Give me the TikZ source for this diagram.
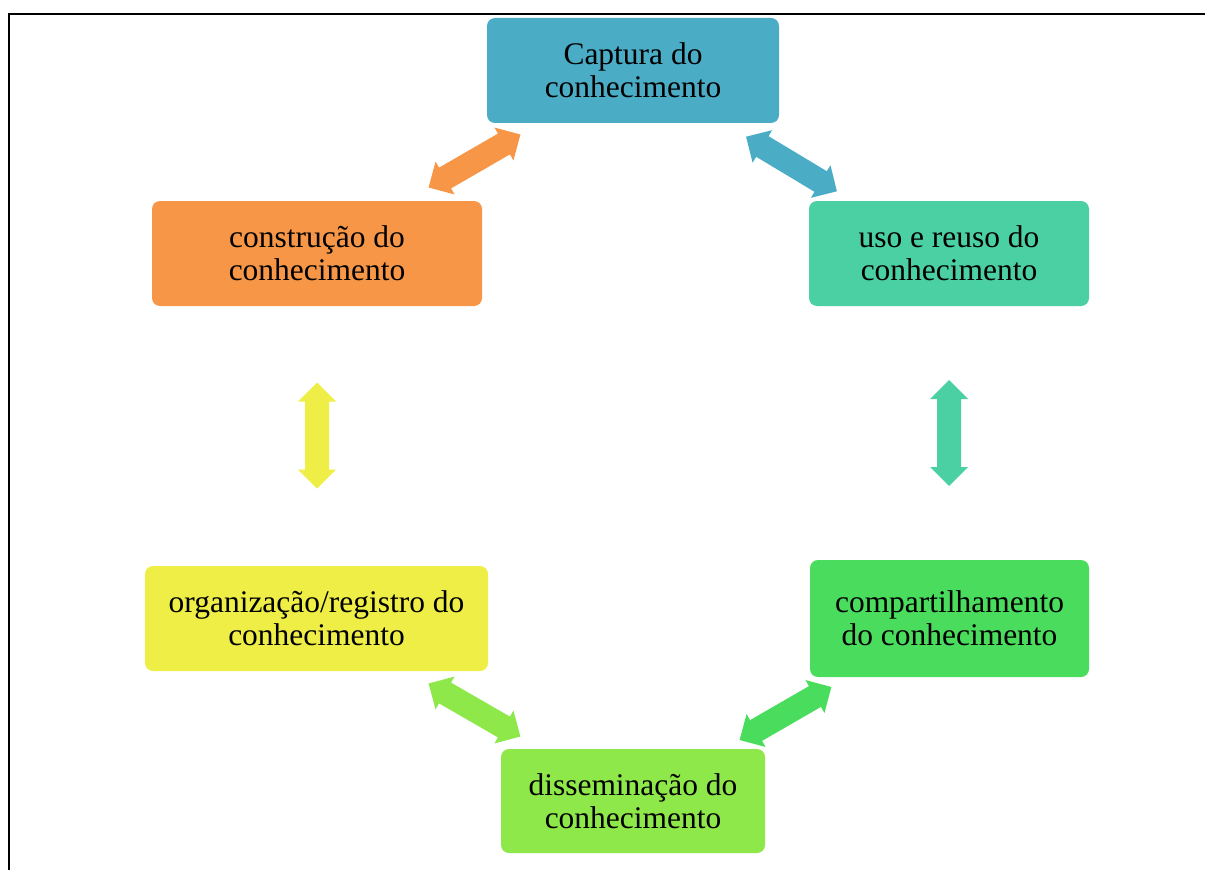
\documentclass[tikz,border=0pt]{standalone}
\usepackage{fontspec}
\setmainfont{Liberation Serif}
\newdimen\pxd \pxd=0.75pt
\definecolor{cblue}{RGB}{75,172,198}
\definecolor{corange}{RGB}{247,150,70}
\definecolor{cteal}{RGB}{75,208,164}
\definecolor{cgreen}{RGB}{74,220,92}
\definecolor{clgreen}{RGB}{142,232,74}
\definecolor{cyellow}{RGB}{238,238,70}
\tikzset{
  box/.style={rounded corners=8\pxd, inner sep=0pt, align=center,
    font=\fontsize{23.6pt}{24.8pt}\selectfont, text=black},
  dblarrow/.pic={\fill (-53,0) -- (-34,19) -- (-34,12) -- (34,12) -- (34,19)
     -- (53,0) -- (34,-19) -- (34,-12) -- (-34,-12) -- (-34,-19) -- cycle;}
}
\begin{document}
\begin{tikzpicture}[x=0.75pt,y=-0.75pt]
\useasboundingbox (0,0) rectangle (1205,870);
\draw[line width=2.2\pxd] (9,870) -- (9,14) -- (1210,14);
\node[box, fill=cblue, minimum width=292\pxd, minimum height=105\pxd] (cap) at (633,70.5) {Captura do\\conhecimento};
\node[box, fill=corange, minimum width=330\pxd, minimum height=105\pxd] (con) at (317,253.5) {constru\c{c}\~ao do\\conhecimento};
\node[box, fill=cteal, minimum width=280\pxd, minimum height=105\pxd] (uso) at (949,253.5) {uso e reuso do\\conhecimento};
\node[box, fill=cyellow, minimum width=343\pxd, minimum height=105\pxd] (org) at (316.5,618.5) {organiza\c{c}\~ao/registro do\\conhecimento};
\node[box, fill=cgreen, minimum width=279\pxd, minimum height=117\pxd] (com) at (949.5,618.5) {compartilhamento\\do conhecimento};
\node[box, fill=clgreen, minimum width=264\pxd, minimum height=104\pxd] (dis) at (633,801) {dissemina\c{c}\~ao do\\conhecimento};
\coordinate (a1) at (474.5,161);
\coordinate (a2) at (791.5,164);
\coordinate (a3) at (317,435.5);
\coordinate (a4) at (949,433);
\coordinate (a5) at (474.5,710);
\coordinate (a6) at (785.5,713.5);
\pic[corange, rotate=30] at (a1) {dblarrow};
\pic[cblue, rotate=-31] at (a2) {dblarrow};
\pic[cyellow, rotate=90] at (a3) {dblarrow};
\pic[cteal, rotate=90] at (a4) {dblarrow};
\pic[clgreen, rotate=-30] at (a5) {dblarrow};
\pic[cgreen, rotate=30] at (a6) {dblarrow};
\end{tikzpicture}
\end{document}
